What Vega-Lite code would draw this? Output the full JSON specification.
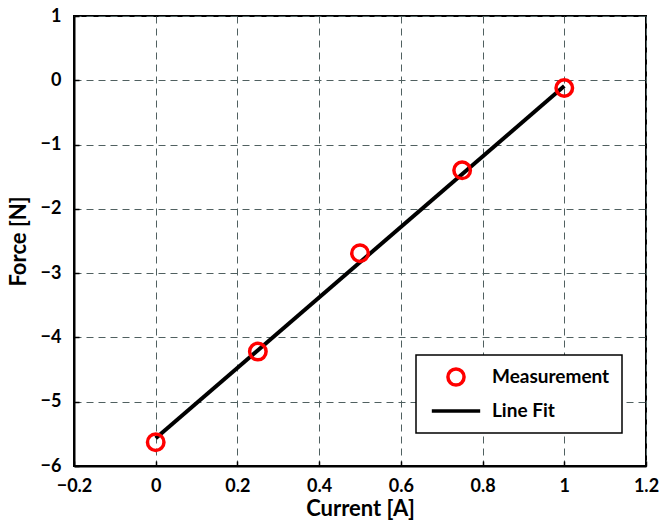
{
  "$schema": "https://vega.github.io/schema/vega-lite/v6.json",
  "autosize": {"type": "none"},
  "padding": {"left": 74, "top": 16, "right": 14, "bottom": 59},
  "width": 572,
  "height": 450,
  "background": "white",
  "config": {
    "font": "Lato",
    "view": {"stroke": "black", "strokeWidth": 2},
    "axis": {
      "labelFont": "Lato", "labelFontWeight": "bold", "labelFontSize": 18, "labelColor": "black",
      "titleFont": "Lato", "titleFontWeight": "bold", "titleFontSize": 22, "titleColor": "black",
      "domainColor": "black", "domainWidth": 2,
      "tickColor": "black", "tickSize": -5, "tickWidth": 1.5,
      "gridColor": "#506060", "gridDash": [7, 5], "gridWidth": 1, "gridOpacity": 1
    }
  },
  "datasets": {
    "meas": [
      {"current": 0, "force": -5.63, "series": "Measurement"},
      {"current": 0.25, "force": -4.22, "series": "Measurement"},
      {"current": 0.5, "force": -2.69, "series": "Measurement"},
      {"current": 0.75, "force": -1.4, "series": "Measurement"},
      {"current": 1, "force": -0.12, "series": "Measurement"}
    ],
    "fit": [
      {"current": 0, "force": -5.57, "series": "Line Fit"},
      {"current": 1, "force": -0.09, "series": "Line Fit"}
    ]
  },
  "encoding": {
    "x": {
      "field": "current", "type": "quantitative",
      "scale": {"domain": [-0.2, 1.2], "nice": false, "zero": false},
      "axis": {"values": [-0.2, 0, 0.2, 0.4, 0.6, 0.8, 1, 1.2], "format": "~g", "title": "Current [A]", "labelPadding": 16, "titlePadding": 3, "labelFlush": false}
    },
    "y": {
      "field": "force", "type": "quantitative",
      "scale": {"domain": [-6, 1], "nice": false, "zero": false},
      "axis": {"values": [-6, -5, -4, -3, -2, -1, 0, 1], "format": "~g", "title": "Force [N]", "labelPadding": 18, "titlePadding": 10, "labelFlush": false}
    },
    "color": {
      "field": "series", "type": "nominal",
      "scale": {"domain": ["Measurement", "Line Fit"], "range": ["#ff0000", "#000000"]},
      "legend": {
        "title": null, "orient": "none", "legendX": 342, "legendY": 339,
        "fillColor": "white", "strokeColor": "black",
        "padding": 12, "symbolOffset": 18, "labelOffset": 26, "rowPadding": 8,
        "symbolSize": 260, "symbolStrokeWidth": 3.5,
        "labelFont": "Lato", "labelFontWeight": "bold", "labelFontSize": 19, "labelColor": "black",
        "encode": {
          "legend": {"update": {"strokeWidth": {"value": 1.5}}},
          "symbols": {"update": {"fill": {"value": "transparent"}, "strokeWidth": {"value": 3.5}}}
        }
      }
    }
  },
  "layer": [
    {
      "data": {"name": "fit"},
      "mark": {"type": "line", "strokeWidth": 4}
    },
    {
      "data": {"name": "meas"},
      "mark": {"type": "point", "filled": false, "size": 272, "strokeWidth": 3.5, "opacity": 1},
      "encoding": {
        "shape": {
          "field": "series", "type": "nominal",
          "scale": {"domain": ["Measurement", "Line Fit"], "range": ["circle", "M-3,0H3"]}
        }
      }
    }
  ]
}
